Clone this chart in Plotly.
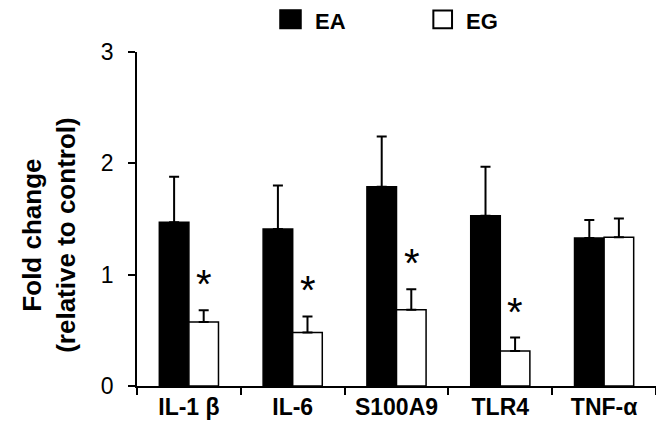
import plotly.graph_objects as go

categories = ["IL-1 β", "IL-6", "S100A9", "TLR4", "TNF-α"]
ea_values = [1.47, 1.41, 1.79, 1.53, 1.33]
ea_errors = [0.41, 0.39, 0.45, 0.44, 0.16]
eg_values = [0.575, 0.48, 0.685, 0.315, 1.335]
eg_errors = [0.105, 0.145, 0.185, 0.12, 0.17]
significance = ["*", "*", "*", "*", ""]
y_ticks = [0, 1, 2, 3]

FONT = "Arial, Liberation Sans, sans-serif"

fig = go.Figure()
fig.add_trace(go.Bar(
    name="EA", x=categories, y=ea_values,
    marker=dict(color="black", line=dict(color="black", width=1.5)),
    error_y=dict(type="data", array=ea_errors, arrayminus=[0]*len(ea_errors),
                 symmetric=False, color="black", thickness=2, width=5),
    showlegend=False,
))
fig.add_trace(go.Bar(
    name="EG", x=categories, y=eg_values,
    marker=dict(color="white", line=dict(color="black", width=1.5)),
    error_y=dict(type="data", array=eg_errors, arrayminus=[0]*len(eg_errors),
                 symmetric=False, color="black", thickness=2, width=5),
    showlegend=False,
))

# significance asterisks above EG error bars
for cat, v, e, s in zip(categories, eg_values, eg_errors, significance):
    if s:
        fig.add_annotation(x=cat, y=v + e, xref="x", yref="y", text=s,
                           showarrow=False, xshift=15, yshift=2, yanchor="bottom",
                           font=dict(family=FONT, size=40, color="black"))

# manual legend
fig.add_shape(type="rect", xref="paper", yref="paper",
              x0=0.2755, x1=0.316, y0=1.070, y1=1.126,
              fillcolor="black", line=dict(color="black", width=1.5))
fig.add_annotation(xref="paper", yref="paper", x=0.342, y=1.1317, text="<b>EA</b>",
                   showarrow=False, xanchor="left", yanchor="top", borderpad=0,
                   font=dict(family=FONT, size=22, color="black"))
fig.add_shape(type="rect", xref="paper", yref="paper",
              x0=0.571, x1=0.607, y0=1.071, y1=1.124,
              fillcolor="white", line=dict(color="black", width=2))
fig.add_annotation(xref="paper", yref="paper", x=0.632, y=1.1317, text="<b>EG</b>",
                   showarrow=False, xanchor="left", yanchor="top", borderpad=0,
                   font=dict(family=FONT, size=22, color="black"))

# y-axis title
fig.add_annotation(xref="paper", yref="paper", x=-0.17, y=0.452,
                   text="<b>Fold change</b><br><b>(relative to control)</b>",
                   textangle=-90, showarrow=False, xanchor="center", yanchor="middle",
                   font=dict(family=FONT, size=26, color="black"))

fig.update_layout(
    width=656, height=428,
    margin=dict(l=129, r=8, t=44, b=50),
    paper_bgcolor="white", plot_bgcolor="white",
    barmode="group", bargap=0.43, bargroupgap=0,
    font=dict(family=FONT, color="black"),
    xaxis=dict(
        type="category", showline=True, linecolor="black", linewidth=1.5,
        ticks="outside", tickson="boundaries", ticklen=7, tickwidth=1.5, tickcolor="black",
        tickfont=dict(family=FONT, size=23, color="black", weight="bold"),
        showgrid=False, zeroline=False, range=[-0.5, 4.5],
    ),
    yaxis=dict(
        range=[0, 3], tickvals=y_ticks, showline=True, linecolor="black", linewidth=1.5,
        ticks="outside", ticklen=7, tickwidth=1.5, tickcolor="black",
        tickfont=dict(family=FONT, size=23, color="black"),
        ticklabelstandoff=10,
        showgrid=False, zeroline=False,
    ),
)

fig.write_html("out.html")
